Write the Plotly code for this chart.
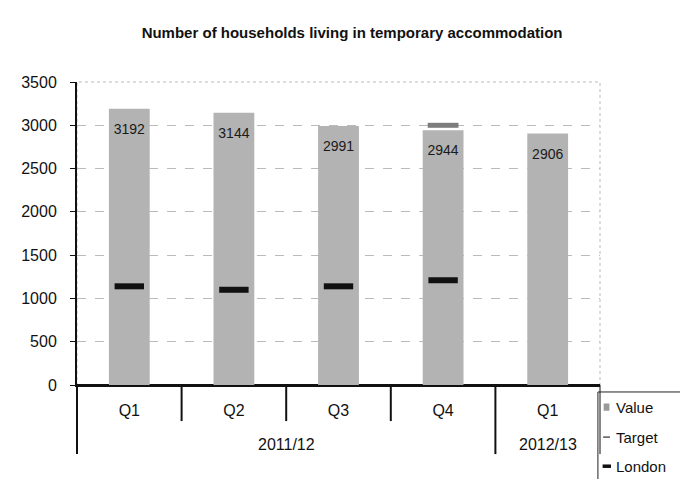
import plotly.graph_objects as go

years = ["2011/12", "2011/12", "2011/12", "2011/12", "2012/13"]
quarters = ["Q1", "Q2", "Q3", "Q4", "Q1"]
values = [3192, 3144, 2991, 2944, 2906]
target = [None, None, None, 3000, None]
london = [1140, 1100, 1140, 1210, None]
legend_names = ["Value", "Target", "London"]

pos = list(range(len(quarters)))
font = "Liberation Sans, Arial, sans-serif"

fig = go.Figure()
fig.add_trace(go.Bar(
    x=pos, y=values, name="Value", width=0.39,
    marker=dict(color="#b3b3b3", line=dict(width=0)),
))
# value labels sit a little below the top of each bar
fig.add_trace(go.Scatter(
    x=pos, y=values, mode="markers+text", text=[str(v) for v in values],
    textposition="bottom center", marker=dict(size=22, opacity=0),
    textfont=dict(color="#1a1a1a", size=14, family=font), hoverinfo="skip",
))
fig.add_trace(go.Scatter(
    x=pos, y=target, name="Target", mode="markers",
    marker=dict(symbol="line-ew-open", size=22, color="#7d7d7d",
                line=dict(width=5, color="#7d7d7d")),
))
fig.add_trace(go.Scatter(
    x=pos, y=london, name="London", mode="markers",
    marker=dict(symbol="line-ew-open", size=21, color="#111111",
                line=dict(width=6, color="#111111")),
))

fig.update_layout(
    width=680, height=471,
    margin=dict(l=69, r=88, t=74, b=94),
    paper_bgcolor="white", plot_bgcolor="white",
    font=dict(family=font, size=15, color="#111111"),
    title=dict(text="<b>Number of households living in temporary accommodation</b>",
               x=0.506, xanchor="center", y=0.947, yanchor="middle",
               font=dict(size=15, family=font, color="#111111")),
    showlegend=False,
)
fig.update_yaxes(
    range=[0, 3500], dtick=500, showgrid=True,
    gridcolor="#bbbbbb", griddash="dash", gridwidth=1,
    showline=True, linecolor="#111111", linewidth=2,
    ticks="outside", ticklen=5, tickcolor="#111111",
    zeroline=True, zerolinecolor="#111111", zerolinewidth=1.5,
    tickfont=dict(size=16), ticklabelstandoff=10,
)
fig.update_xaxes(
    range=[-0.5, len(pos) - 0.5], tickvals=pos, ticktext=quarters,
    showgrid=False, zeroline=False,
    showline=True, linecolor="#111111", linewidth=1.5,
    tickfont=dict(size=16), ticks="", ticklabelstandoff=10,
)
fig.add_shape(type="rect", xref="paper", yref="paper", x0=0, x1=1, y0=0, y1=1,
              line=dict(color="#bbbbbb", width=1, dash="dot"), layer="below")

# dividers under the axis: short ones between quarters, long ones between years
n = len(pos)
for i in range(n + 1):
    edge = i == 0 or i == n or years[i] != years[i - 1]
    fig.add_shape(type="line", xref="paper", yref="paper", x0=i / n, x1=i / n,
                  y0=0, y1=-0.228 if edge else -0.119,
                  line=dict(color="#111111", width=2 if i < n else 1))

# year labels centred under their quarters
for yr in dict.fromkeys(years):
    xs = [p for p, y in zip(pos, years) if y == yr]
    fig.add_annotation(text=yr, xref="x", yref="paper", x=sum(xs) / len(xs),
                       y=-0.198, yanchor="middle", showarrow=False,
                       font=dict(size=16, family=font, color="#111111"))

# legend box drawn by hand (bottom right, clipped by the page edge)
fig.add_shape(type="rect", xref="paper", yref="paper", x0=0.996, x1=1.25,
              y0=-0.36, y1=-0.023, line=dict(color="#222222", width=1))
leg_y = [-0.073, -0.172, -0.268]
fig.add_shape(type="rect", xref="paper", yref="paper", x0=1.007, x1=1.018,
              y0=leg_y[0] - 0.012, y1=leg_y[0] + 0.012,
              line=dict(width=0), fillcolor="#9a9a9a")
fig.add_shape(type="line", xref="paper", yref="paper", x0=1.006, x1=1.019,
              y0=leg_y[1], y1=leg_y[1], line=dict(color="#555555", width=1.5))
fig.add_shape(type="line", xref="paper", yref="paper", x0=1.005, x1=1.021,
              y0=leg_y[2], y1=leg_y[2], line=dict(color="#111111", width=3.5))
for name, yy in zip(legend_names, leg_y):
    fig.add_annotation(text=name, xref="paper", yref="paper", x=1.026, y=yy,
                       xanchor="left", yanchor="middle", showarrow=False,
                       font=dict(size=15, family=font, color="#111111"))

fig.write_html("out.html")
